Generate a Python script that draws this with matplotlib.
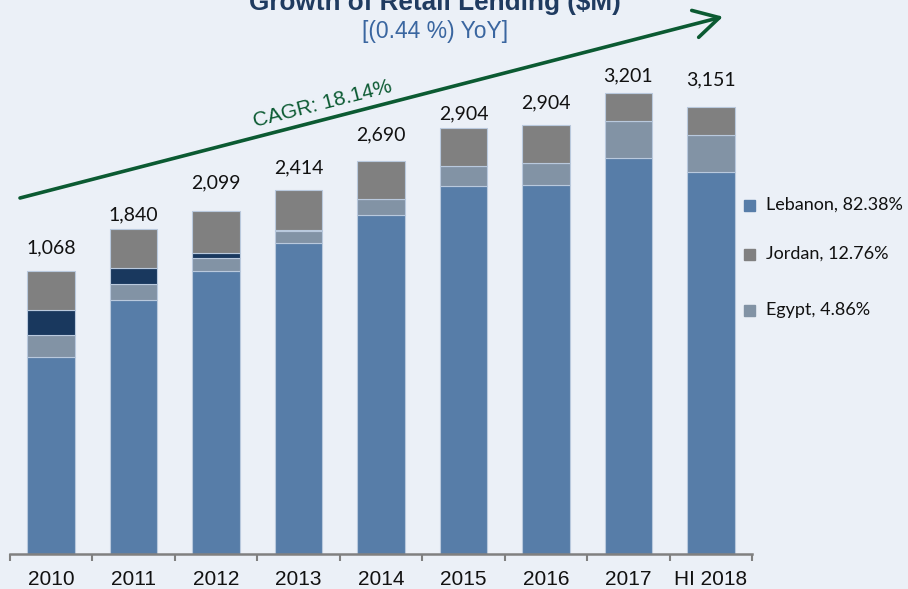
import matplotlib.pyplot as plt
from matplotlib.patches import Rectangle

# segment heights (chart units, axis is not shown)
years = ['2010', '2011', '2012', '2013', '2014', '2015', '2016', '2017', 'HI 2018']
lebanon = [197, 254, 283, 311, 339, 368, 369, 396, 382]
egypt = [22, 16, 13.5, 12, 16, 20, 22, 37, 37]
other = [25, 16, 5, 1, 0, 0, 0, 0, 0]
jordan = [39, 39.5, 42, 40, 38, 38, 38.5, 28, 28]
totals = ['1,068', '1,840', '2,099', '2,414', '2,690', '2,904', '2,904', '3,201', '3,151']
legend_labels = ['Lebanon, 82.38%', 'Jordan, 12.76%', 'Egypt, 4.86%']

bg = '#EBF0F7'
c_leb = '#577DA8'
c_egy = '#8293A5'
c_oth = '#19385E'
c_jor = '#808080'
green = '#0B5A32'

W, H = 908, 589
fig = plt.figure(figsize=(W / 100, H / 100), dpi=100, facecolor=bg)
ax = fig.add_axes([10 / W, 35 / H, 742 / W, 554 / H])
ax.set_facecolor(bg)

x = list(range(len(years)))
bw = 0.577
edge = dict(edgecolor='#B9C9DD', linewidth=0.8)
bottom = [0] * len(x)
for vals, col in [(lebanon, c_leb), (egypt, c_egy), (other, c_oth), (jordan, c_jor)]:
    ax.bar(x, vals, bw, bottom=bottom, color=col, **edge)
    bottom = [b + v for b, v in zip(bottom, vals)]

# total labels above bars
label_pad = [15, 5, 19, 14, 18, 6, 13, 9, 19]
for i, (t, p) in enumerate(zip(totals, label_pad)):
    ax.annotate(t, (i, bottom[i]), xytext=(0, p * 0.72), textcoords='offset points',
                ha='center', va='bottom', fontsize=14, family='Lato', color='#111111')

ax.set_xlim(-0.5, len(x) - 0.5)
ax.set_ylim(0, 554)
for s in ['left', 'right', 'top']:
    ax.spines[s].set_visible(False)
ax.spines['bottom'].set_color('#808080')
ax.spines['bottom'].set_linewidth(1.8)
ax.set_yticks([])
ax.set_xticks(x)
ax.set_xticklabels(years, fontsize=15, family='Liberation Sans', color='#111111')
ax.tick_params(axis='x', which='major', length=0, pad=11.5)
ax.set_xticks([i - 0.5 for i in range(len(x) + 1)], minor=True)
ax.tick_params(axis='x', which='minor', length=5, width=1.5, color='#808080')

# CAGR arrow
def fx(px):
    return (px - 10) / 742 * len(x) - 0.5

def fy(py):
    return 554 - py

ax.annotate('', xy=(fx(723), fy(16.7)), xytext=(fx(20), fy(198)),
            arrowprops=dict(arrowstyle='->,head_length=0.9,head_width=0.5', color=green,
                            lw=2.6, mutation_scale=20, shrinkA=0, shrinkB=0),
            annotation_clip=False)
fig.text(323 / W, 1 - 104 / H, 'CAGR: 18.14%', rotation=14.4, rotation_mode='anchor',
         ha='center', va='center', fontsize=15, family='Liberation Sans', color=green)

# titles
fig.text(435 / W, 1 - 10 / H, 'Growth of Retail Lending ($M)', ha='center', va='baseline',
         fontsize=18.8, fontweight='bold', family='Liberation Sans', color='#1F3B60')
fig.text(435 / W, 1 - 38 / H, '[(0.44 %) YoY]', ha='center', va='baseline',
         fontsize=16.5, family='Liberation Sans', color='#3A66A0')

# legend
leg_y = [205, 254, 310]
for lab, col, ly in zip(legend_labels, [c_leb, c_jor, c_egy], leg_y):
    fig.add_artist(Rectangle(((744) / W, 1 - (ly + 5.5) / H), 11 / W, 11 / H,
                             transform=fig.transFigure, color=col))
    fig.text(766 / W, 1 - ly / H, lab, ha='left', va='center', fontsize=13,
             family='Lato', color='#111111')

fig.savefig('out.png', dpi=100, facecolor=bg)
